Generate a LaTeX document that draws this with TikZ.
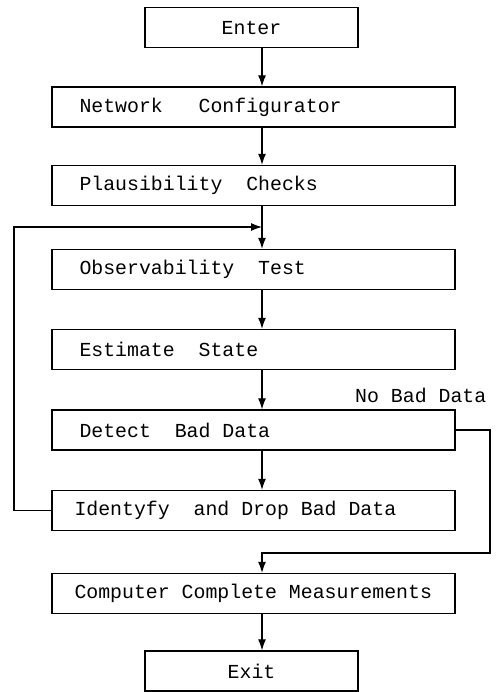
\documentclass[tikz,border=0pt]{standalone}
\usepackage{fontspec}
\setmonofont{Liberation Mono}
\usetikzlibrary{arrows.meta}
\newcommand{\ligneboite}[1]{\makebox[7.16cm][l]{#1}}
\tikzset{
    texte/.style = {font=\ttfamily\fontsize{11.3}{13}\selectfont},
    boite/.style = {draw, line width=0.8pt, minimum height=0.8cm, texte},
    boitelarge/.style = {boite, inner xsep=0.45cm},
    boitecourte/.style = {boite, minimum width=4.26cm},
    lien/.style = {line width=0.6pt},
    >={Latex[length=2.2mm, width=1.6mm]}
}

\begin{document}
\begin{tikzpicture}
                \useasboundingbox (0,0) rectangle (9.98,-13.84);
                \coordinate (axe) at (5.24,0);
                \node (enter) [boitecourte] at (5.03, -0.55) {Enter};
                \node (netconf) [boitelarge] at (5.07, -2.14) {\ligneboite{\hspace{0.1cm}Network~~ Configurator}};
                \node (plaus) [boitelarge] at (5.07, -3.71) {\ligneboite{\hspace{0.1cm}Plausibility~ Checks}};
                \node (observ) [boitelarge] at (5.07, -5.39) {\ligneboite{\hspace{0.1cm}Observability~ Test}};
                \node (estim) [boitelarge] at (5.07, -6.99) {\ligneboite{\hspace{0.1cm}Estimate~ State}};
                \node (detect) [boitelarge] at (5.07, -8.6) {\ligneboite{\hspace{0.1cm}Detect~ Bad Data}};
                \node (identify) [boitelarge] at (5.07, -10.21) {\ligneboite{Identyfy~ and Drop Bad Data}};
                \node (compute) [boitelarge] at (5.07, -11.87) {\ligneboite{Computer Complete Measurements}};
                \node (exit) [boitecourte] at (5.03, -13.42) {Exit};
                \path[lien, ->] (enter.south -| axe) edge (netconf.north -| axe)
                (netconf.south -| axe) edge (plaus.north -| axe)
                (plaus.south -| axe) edge (observ.north -| axe)
                (observ.south -| axe) edge (estim.north -| axe)
                (estim.south -| axe) edge (detect.north -| axe)
                (detect.south -| axe) edge (identify.north -| axe)
                (compute.south -| axe) edge (exit.north -| axe);
                % boucle de retour
                \coordinate (gauche) at (0.28, -4.54);
                \coordinate (jonction) at (5.24, -4.54);
                \draw[lien, ->] (identify.west) -| (gauche) -- (jonction);
                % sortie sans mauvaises donnees
                \coordinate (droite) at (9.8, -11.06);
                \node (nobad) [anchor=east, texte] at (9.85, -7.9) {No Bad Data};
                \draw[lien, ->] (detect.east) -| (droite) -- (droite -| axe) -- (compute.north -| axe);
            \end{tikzpicture}
\end{document}
